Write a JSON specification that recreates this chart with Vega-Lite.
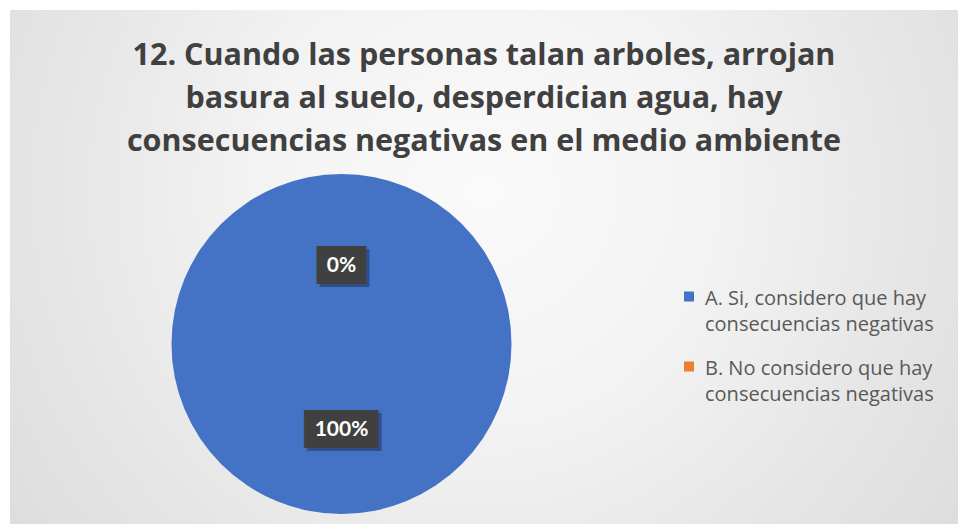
{
  "$schema": "https://vega.github.io/schema/vega-lite/v6.json",
  "width": 948,
  "height": 514,
  "autosize": {"type": "none"},
  "padding": {"left": 10, "top": 10, "right": 0, "bottom": 0},
  "background": "#FFFFFF",
  "title": {
    "text": ["12. Cuando las personas talan arboles, arrojan", "basura al suelo, desperdician agua, hay", "consecuencias negativas en el medio ambiente"],
    "anchor": "middle",
    "offset": -147,
    "font": "Open Sans",
    "fontSize": 30.5,
    "fontWeight": "bold",
    "color": "#404040",
    "lineHeight": 43
  },
  "data": {
    "values": [
      {"respuesta": "A. Si, considero que hay consecuencias negativas", "proporcion": 1},
      {"respuesta": "B. No considero que hay consecuencias negativas", "proporcion": 0}
    ]
  },
  "layer": [
    {
      "data": {"values": [{"panel": "fondo"}]},
      "mark": {
        "type": "rect",
        "x": 0, "x2": "width", "y": 0, "y2": "height",
        "fill": {
          "gradient": "radial",
          "x1": 0.5, "y1": 0.42, "r1": 0,
          "x2": 0.5, "y2": 0.42, "r2": 0.8,
          "stops": [
            {"offset": 0, "color": "#FAFAFA"},
            {"offset": 0.3, "color": "#F3F3F3"},
            {"offset": 0.56, "color": "#E6E6E6"},
            {"offset": 0.84, "color": "#DADADA"},
            {"offset": 1, "color": "#CCCCCC"}
          ]
        }
      },
      "encoding": {}
    },
    {
      "mark": {"type": "arc", "outerRadius": 170, "x": 331.5, "y": 334, "stroke": null},
      "encoding": {
        "theta": {"field": "proporcion", "type": "quantitative", "stack": true},
        "color": {
          "field": "respuesta",
          "type": "nominal",
          "scale": {"domain": ["A. Si, considero que hay consecuencias negativas", "B. No considero que hay consecuencias negativas"], "range": ["#4472C4", "#ED7D31"]},
          "legend": {
            "orient": "none",
            "legendX": 669,
            "legendY": 269,
            "title": null,
            "symbolType": "M-1,0.5H1V2.5H-1Z",
            "symbolSize": 100,
            "symbolStrokeWidth": 0,
            "labelFont": "Open Sans",
            "labelFontSize": 20,
            "labelColor": "#595959",
            "labelLimit": 0,
            "labelBaseline": "top",
            "labelOffset": 6,
            "rowPadding": 14,
            "labelExpr": "datum.label == 'A. Si, considero que hay consecuencias negativas' ? ['A. Si, considero que hay', 'consecuencias negativas'] : ['B. No considero que hay', 'consecuencias negativas']"
          }
        }
      }
    },
    {
      "mark": {"type": "text", "radius": 82, "x": 331.5, "y": 334, "font": "DejaVu Sans", "fontSize": 32, "baseline": "middle", "align": "center", "fill": "#000000", "opacity": 0.3, "dx": 3, "dy": 7},
      "encoding": {
        "theta": {"field": "proporcion", "type": "quantitative", "stack": true},
        "detail": {"field": "respuesta"},
        "text": {"condition": {"test": "datum.proporcion == 0", "value": "██"}, "value": "███"}
      }
    },
    {
      "mark": {"type": "text", "radius": 82, "x": 331.5, "y": 334, "font": "DejaVu Sans", "fontSize": 32, "baseline": "middle", "align": "center", "fill": "#404040", "dy": 4},
      "encoding": {
        "theta": {"field": "proporcion", "type": "quantitative", "stack": true},
        "detail": {"field": "respuesta"},
        "text": {"condition": {"test": "datum.proporcion == 0", "value": "██"}, "value": "███"}
      }
    },
    {
      "mark": {"type": "text", "radius": 82, "x": 331.5, "y": 334, "font": "Lato", "fontSize": 21, "fontWeight": "bold", "baseline": "middle", "align": "center", "fill": "#FFFFFF", "dy": 4},
      "encoding": {
        "theta": {"field": "proporcion", "type": "quantitative", "stack": true},
        "detail": {"field": "respuesta"},
        "text": {"field": "proporcion", "type": "quantitative", "format": ".0%"}
      }
    }
  ],
  "config": {
    "view": {"stroke": null},
    "style": {"guide-label": {"lineHeight": 26}}
  }
}
